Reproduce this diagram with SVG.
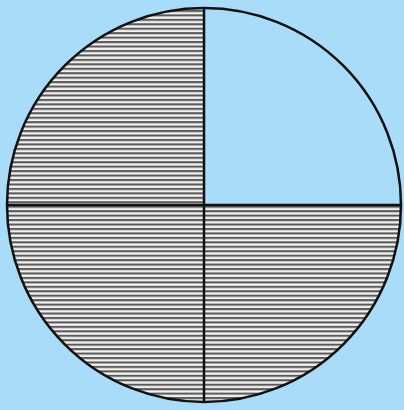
<svg xmlns="http://www.w3.org/2000/svg" width="404" height="410" viewBox="0 0 404 410">
<style>
.shade{fill:url(#stripes);}
.edge{fill:none;stroke:#111;stroke-width:2.5;}
</style>
<defs>
<pattern id="stripes" patternUnits="userSpaceOnUse" x="0" y="1" width="8" height="4.45">
<rect width="8" height="4.45" fill="#f2f2f2"/>
<rect y="0" width="8" height="2.1" fill="#5a5a5a"/>
</pattern>
</defs>
<rect width="404" height="410" fill="#a9dcf8"/>
<g id="q-top-left"><path class="shade" d="M204,205 L7,205 A197,197 0 0 1 204,8 Z"/></g>
<g id="q-bottom-left"><path class="shade" d="M204,205 L204,402 A197,197 0 0 1 7,205 Z"/></g>
<g id="q-bottom-right"><path class="shade" d="M204,205 L401,205 A197,197 0 0 1 204,402 Z"/></g>
<g id="outline">
<circle class="edge" cx="204" cy="205" r="197"/>
<line class="edge" x1="204" y1="8" x2="204" y2="402"/>
<line class="edge" x1="7" y1="205" x2="401" y2="205"/>
</g>
</svg>
